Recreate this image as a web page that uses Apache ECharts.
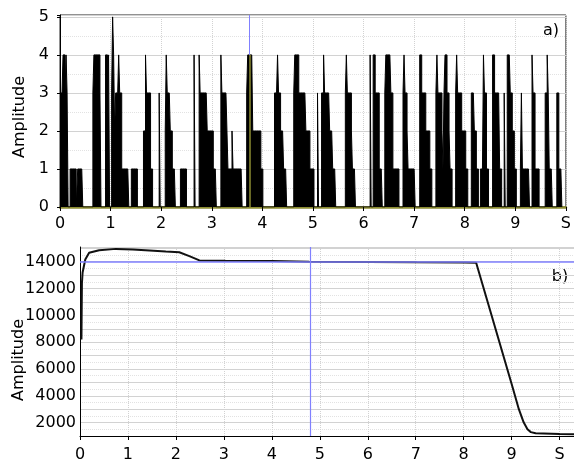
<!DOCTYPE html>
<html>
<head>
<meta charset="utf-8">
<script src="https://cdn.jsdelivr.net/npm/echarts@6/dist/echarts.min.js"></script>
<style>
  html, body { margin: 0; padding: 0; background: #fff; }
  #chart { width: 574px; height: 463px; }
</style>
</head>
<body>
<div id="chart"></div>
<script>
// a) spike amplitudes: each burst = [start time (s), amplitudes every 0.02 s]
var spikeStep = 0.02;
var spikeBursts = [
    [0.00, [3,3,3,4,4,3,4,3]],
    [0.20, [1,1,1,1,1,1]],
    [0.35, [1,1,1,1,1]],
    [0.65, [3,4,4,4,4,4,4,3]],
    [0.90, [4,4,3,4]],
    [1.02, [3,5,4,2,3,3,3,4,3,3,1,1]],
    [1.26, [1,1,1,1,1]],
    [1.41, [1,1,1,1,1,1]],
    [1.65, [2,2,4,3,3,3,3,1,1]],
    [1.96, [3]],
    [2.08, [2,4,3,3,3,2,2,1,1,1]],
    [2.38, [1,1,1,1,1,1]],
    [2.65, [4]],
    [2.75, [4,3,3,3,3,3,3,3,2,2,2,2,2,2,1,1,1]],
    [3.18, [4,3,3,3,3,3,2,1,1,1,1,2,1,1,1,1,1,1,1,1,1]],
    [3.69, [3,4,4,4,4,4,2,2,2,2,2,2,2,2,1,1]],
    [4.24, [3,3,3,4,3,3,2,2,2,1,1,1]],
    [4.62, [3,4,4,4,4,3,3,3,3,3,3,3,2,2,2,2,1,1,1,1]],
    [5.09, [3]],
    [5.17, [3,3,4,3,3,3,3,3,2,2,2,1,1,1]],
    [5.64, [3,4,3,3,3,3,2,1,1,1]],
    [6.13, [4]],
    [6.19, [4,4,3,3,3,3,1,1,1]],
    [6.42, [3,4,4,4,4,4,3,3,1,1,1,1,1,1]],
    [6.78, [3,4,3,3,2,1,1,1,1,1,1,1]],
    [7.11, [4,4,3,3,3,3,2,2,2,2,1,1]],
    [7.43, [3,4,3,3,3,3,2,1,3,4,4,3,3,2,1,1]],
    [7.82, [3,4,3,3,3,3,2,2,2,2,1,1]],
    [8.13, [3,3,3,2,2,1,1]],
    [8.31, [1,1,1,4,3,3,1,1]],
    [8.55, [4,4,3,3,3,3,3,1,1]],
    [8.78, [3]],
    [8.84, [4,4,4,3,3,2,2,1,1]],
    [9.10, [1,3,1,1,1,1,1,1,1]],
    [9.33, [4,3,3,1,1,1,1]],
    [9.59, [3,3,4,3,1,1,1]],
    [9.82, [3,3,1,1,1]]
];

// b) amplitude trace
var traceTime = [0.03, 0.04, 0.054, 0.11, 0.19, 0.40, 0.75, 1.10, 1.45, 1.79, 2.07, 2.28, 2.49,
    3.03, 4.01, 4.78, 6.02, 7.02, 8.02, 8.26, 8.50, 9.00, 9.15, 9.25, 9.33, 9.40, 9.50, 10.0, 10.3];
var traceAmp = [8200, 12400, 13200, 14170, 14670, 14860, 14960, 14910, 14840, 14760, 14710, 14420, 14100,
    14080, 14050, 14000, 13980, 13960, 13950, 13930, 11000, 4880, 3000, 2020, 1500, 1290, 1200, 1150, 1130];

var cursorA = 3.75;
var cursorB = 4.8;
var refLevelB = 14000;

var spikeData = [];
spikeBursts.forEach(function (b) {
    var t0 = b[0], hs = b[1];
    for (var k = 0; k < hs.length; k++) {
        spikeData.push([t0 + k * spikeStep, hs[k]]);
    }
    spikeData.push([t0 + hs.length * spikeStep, 0]);
});
var traceData = traceTime.map(function (t, i) { return [t, traceAmp[i]]; });

var font = '"DejaVu Sans", sans-serif';
var gridSolid = '#d2d2d2';
var gridDot = '#e2e2e2';
var blue = '#8080ff';
var olive = '#8c8c32';

function xLabel(v) {
    if (Math.abs(v - 10) < 1e-6) return 'S';
    return Number.isInteger(v) ? String(v) : '';
}

var chart = echarts.init(document.getElementById('chart'));

var option = {
    animation: false,
    backgroundColor: '#fff',
    grid: [
        { left: 60, right: 4, top: 15, bottom: 256, show: true, borderColor: '#222', borderWidth: 1 },
        { left: 80, right: 0, top: 247, bottom: 25 }
    ],
    xAxis: [
        {
            gridIndex: 0, type: 'value', min: 0, max: 10, interval: 1,
            axisLine: { lineStyle: { color: olive, width: 2.5 } },
            axisTick: { length: 4, lineStyle: { color: '#000' } },
            axisLabel: { color: '#000', fontSize: 16, fontFamily: font, margin: 9, formatter: xLabel },
            splitLine: { show: true, lineStyle: { color: gridSolid, type: 'dotted' } }
        },
        {
            gridIndex: 1, type: 'value', min: 0, max: 10.3, interval: 1,
            axisLine: { lineStyle: { color: '#000', width: 1 } },
            axisTick: { length: 4, lineStyle: { color: '#000' } },
            axisLabel: { color: '#000', fontSize: 16, fontFamily: font, margin: 11, formatter: xLabel,
                showMaxLabel: false },
            splitLine: { show: true, lineStyle: { color: gridSolid, type: 'dotted' } }
        }
    ],
    yAxis: [
        {
            gridIndex: 0, type: 'value', min: 0, max: 5.05, interval: 1,
            axisLine: { show: true, lineStyle: { color: '#000' } },
            axisTick: { show: true, length: 3, lineStyle: { color: '#000' } },
            axisLabel: { color: '#000', fontSize: 16, fontFamily: font, margin: 11,
                formatter: function (v) { return Number.isInteger(v) ? String(v) : ''; } },
            splitLine: { lineStyle: { color: gridSolid } },
            minorTick: { show: false, splitNumber: 2 },
            minorSplitLine: { show: true, lineStyle: { color: gridDot, type: 'dotted' } }
        },
        {
            gridIndex: 1, type: 'value', min: 1000, max: 15100, interval: 1000,
            axisLine: { show: true, lineStyle: { color: '#000' } },
            axisTick: { show: false },
            axisLabel: { color: '#000', fontSize: 16, fontFamily: font, margin: 4,
                formatter: function (v) { return v % 2000 === 0 ? String(v) : ''; } },
            splitLine: { lineStyle: { color: gridSolid } },
            minorTick: { show: false, splitNumber: 2 },
            minorSplitLine: { show: true, lineStyle: { color: gridDot, type: 'dotted' } }
        }
    ],
    series: [
        {
            type: 'line', xAxisIndex: 0, yAxisIndex: 0,
            data: spikeData, step: 'end', showSymbol: false,
            lineStyle: { color: '#000', width: 1 },
            areaStyle: { color: '#000', opacity: 1 },
            markLine: {
                silent: true, symbol: 'none', label: { show: false },
                data: [
                    [{ coord: [cursorA, 4], lineStyle: { color: blue, width: 1, type: 'solid' } },
                     { coord: [cursorA, 5.05] }],
                    [{ coord: [cursorA, 0], lineStyle: { color: olive, width: 1.5, type: 'solid' } },
                     { coord: [cursorA, 4] }]
                ]
            }
        },
        {
            type: 'line', xAxisIndex: 1, yAxisIndex: 1,
            data: traceData, showSymbol: false, z: 3,
            lineStyle: { color: '#111', width: 2 },
            markLine: {
                silent: true, symbol: 'none', label: { show: false },
                data: [
                    [{ coord: [0, refLevelB], lineStyle: { color: blue, width: 1.5, type: 'solid' } },
                     { coord: [10.3, refLevelB] }],
                    [{ coord: [cursorB, 1000], lineStyle: { color: blue, width: 1.2, type: 'solid' } },
                     { coord: [cursorB, 15100] }]
                ]
            }
        }
    ],
    graphic: [
        { type: 'text', x: 20, y: 117, rotation: Math.PI / 2,
          style: { text: 'Amplitude', font: '16px ' + font, fill: '#000', align: 'center', verticalAlign: 'middle' } },
        { type: 'text', x: 19, y: 360, rotation: Math.PI / 2,
          style: { text: 'Amplitude', font: '16px ' + font, fill: '#000', align: 'center', verticalAlign: 'middle' } },
        { type: 'text', x: 551, y: 31,
          style: { text: 'a)', font: '16px ' + font, fill: '#000', align: 'center', verticalAlign: 'middle' } },
        { type: 'text', x: 560, y: 277,
          style: { text: 'b)', font: '16px ' + font, fill: '#000', align: 'center', verticalAlign: 'middle' } }
    ]
};

chart.setOption(option);
</script>
</body>
</html>
